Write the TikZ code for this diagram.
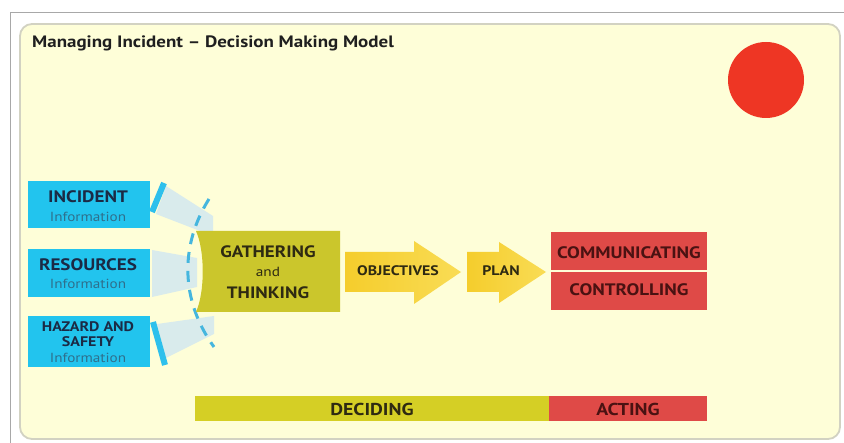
\documentclass[tikz,border=0pt]{standalone}
\usepackage{fontspec}
\setmainfont{PT Sans}[FakeStretch=1.15]
\definecolor{panel}{HTML}{FEFED8}
\definecolor{panelborder}{HTML}{D2D2C2}
\definecolor{frameline}{HTML}{A8A8A8}
\definecolor{dotred}{HTML}{EE3624}
\definecolor{infocyan}{HTML}{22C4EE}
\definecolor{infotitle}{HTML}{1B2A45}
\definecolor{infosub}{HTML}{2F6F8C}
\definecolor{beam}{HTML}{D3E8F0}
\definecolor{barblue}{HTML}{2EC0EC}
\definecolor{dashblue}{HTML}{45B6DE}
\definecolor{olive}{HTML}{CBC62C}
\definecolor{gold}{HTML}{F5CD2C}
\definecolor{goldlight}{HTML}{F9DC55}
\definecolor{actred}{HTML}{DF4A47}
\definecolor{maroon}{HTML}{4A1212}
\definecolor{darktext}{HTML}{2E2A12}
\definecolor{decide}{HTML}{D5CF25}
\begin{document}
\begin{tikzpicture}[x=1pt,y=-1pt,
  infobox/.style={fill=infocyan, minimum width=122pt, inner sep=0pt},
  boxtitle/.style={text=infotitle, font=\bfseries\fontsize{16.6}{17}\selectfont, inner sep=0pt},
  smalltitle/.style={text=infotitle, font=\bfseries\fontsize{13.9}{14}\selectfont, inner sep=0pt},
  infotext/.style={text=infosub, font=\fontsize{13.2}{14}\selectfont, inner sep=0pt},
  beamshape/.style={fill=beam, opacity=0.85},
  bar/.style={draw=barblue, line width=6pt},
  arrowtext/.style={text=darktext, font=\bfseries\fontsize{13.8}{14}\selectfont, inner sep=0pt},
  redbox/.style={fill=actred, minimum width=156pt, minimum height=38pt, inner sep=0pt},
  redtext/.style={text=maroon, font=\bfseries\fontsize{16.6}{17}\selectfont, inner sep=0pt},
  gathertext/.style={text=darktext, font=\bfseries\fontsize{16.5}{17}\selectfont, inner sep=0pt},
  bartext/.style={font=\bfseries\fontsize{17.2}{18}\selectfont, inner sep=0pt}
]
\useasboundingbox (0,0) rectangle (844,443);
\fill[white] (0,0) rectangle (844,443);
\draw[frameline, line width=1pt] (10,443) -- (10,13) -- (844,13);
\draw[draw=panelborder, fill=panel, line width=1.8pt, rounded corners=12pt] (20,24) rectangle (840,439);

% title
\node[anchor=west, text=black!88, font=\bfseries\fontsize{16.5}{20}\selectfont, inner sep=0pt] (title) at (32,43) {Managing Incident – Decision Making Model};

% red dot
\node[circle, fill=dotred, minimum size=76pt, inner sep=0pt] (dot) at (766,80) {};

% beams
\fill[beamshape] (166,186) -- (213,216) -- (213,236) -- (156,214) -- cycle;
\fill[beamshape] (152,250) -- (197,258) -- (197,287) -- (152,297) -- cycle;
\fill[beamshape] (157,324) -- (214,316) -- (214,334) -- (166,358) -- cycle;

% dashed arc
\draw[dashblue, line width=3pt, dash pattern=on 11pt off 8pt] (209,199) .. controls (180,245) and (180,300) .. (214,347);

% slanted bars
\draw[bar] (164,183) -- (152,212);
\draw[bar] (153,322) -- (165,365);

% info boxes
\node[infobox, minimum height=47pt] (inc) at (89,204.5) {};
\node[boxtitle] (inct) at (88,197) {INCIDENT};
\node[infotext] (inci) at (88,217) {Information};

\node[infobox, minimum height=48pt] (res) at (89,273) {};
\node[boxtitle] (rest) at (88,265) {RESOURCES};
\node[infotext] (resi) at (88,284) {Information};

\node[infobox, minimum height=51pt] (haz) at (89,341.5) {};
\node[smalltitle] (hazt1) at (88,327) {HAZARD AND};
\node[smalltitle] (hazt2) at (88,342) {SAFETY};
\node[infotext] (hazi) at (88,357.5) {Information};

% gathering box
\fill[olive] (196,231) -- (340,231) -- (340,312) -- (196,312) .. controls (205,292) and (205,251) .. (196,231) -- cycle;
\node[gathertext] (g1) at (268,252) {GATHERING};
\node[text=darktext, font=\fontsize{13.3}{14}\selectfont, inner sep=0pt] (g2) at (268,272) {and};
\node[gathertext] (g3) at (268,293) {THINKING};

% arrows
\shade[left color=gold, right color=goldlight] (345,252) -- (414,252) -- (414,241) -- (461,272) -- (414,304) -- (414,292) -- (345,292) -- cycle;
\node[arrowtext] (obj) at (398,271) {OBJECTIVES};
\shade[left color=gold, right color=goldlight] (467,252) -- (499,252) -- (499,242) -- (546,272) -- (499,303) -- (499,292) -- (467,292) -- cycle;
\node[arrowtext] (plan) at (501,271) {PLAN};

% red boxes
\node[redbox] (comm) at (629,251) {};
\node[redtext] (commt) at (629,253) {COMMUNICATING};
\node[redbox] (ctrl) at (629,291) {};
\node[redtext] (ctrlt) at (629,290) {CONTROLLING};

% bottom bars
\fill[decide] (195,396) rectangle (549,421);
\fill[actred] (549,396) rectangle (707,421);
\node[bartext, text=darktext] (dec) at (372,409) {DECIDING};
\node[bartext, text=maroon] (act) at (628,409) {ACTING};
\end{tikzpicture}
\end{document}
